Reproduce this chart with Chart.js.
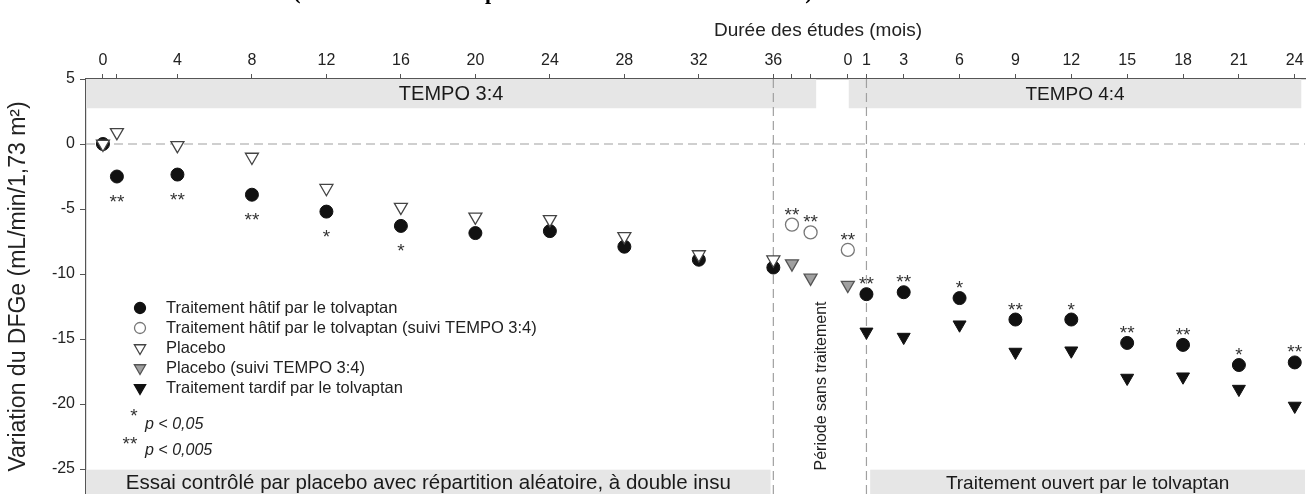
<!DOCTYPE html>
<html lang="fr">
<head>
<meta charset="utf-8">
<script src="https://cdn.jsdelivr.net/npm/chart.js@4.4.1/dist/chart.umd.min.js"></script>
<style>
  html, body { margin: 0; padding: 0; background: #fff; overflow: hidden; }
  #cadre { width: 1308px; height: 494px; }
</style>
</head>
<body>
<div id="cadre"><canvas id="graphique" width="1308" height="494"></canvas></div>
<script>
// La phase TEMPO 4:4 est placée après la période sans traitement
const DECALAGE_T44 = 40;

// TEMPO 3:4 (mois 0 à 36)
const moisT34 = [0, 0.75, 4, 8, 12, 16, 20, 24, 28, 32, 36];
const hatifT34 = [0, -2.5, -2.35, -3.9, -5.2, -6.3, -6.85, -6.7, -7.9, -8.9, -9.5];
const placeboT34 = [0, 0.9, -0.1, -1.0, -3.4, -4.85, -5.6, -5.8, -7.1, -8.5, -8.9];
const sigT34 = ['', '**', '**', '**', '*', '*', '', '', '', '', ''];

// Suivi TEMPO 3:4 (période sans traitement)
const moisSuivi = [37, 38, 40];
const hatifSuivi = [-6.2, -6.8, -8.15];
const placeboSuivi = [-9.2, -10.3, -10.85];
const sigSuivi = ['**', '**', '**'];

// TEMPO 4:4 (mois 1 à 24)
const moisT44 = [1, 3, 6, 9, 12, 15, 18, 21, 24];
const hatifT44 = [-11.55, -11.4, -11.85, -13.5, -13.5, -15.3, -15.45, -17.0, -16.8];
const tardifT44 = [-14.45, -14.85, -13.9, -16.0, -15.9, -18.0, -17.9, -18.85, -20.15];
const sigT44 = ['**', '**', '*', '**', '*', '**', '**', '*', '**'];

// Graduations de l'axe du haut
const graduationsT34 = [0, 4, 8, 12, 16, 20, 24, 28, 32, 36];
const graduationsT44 = [0, 1, 3, 6, 9, 12, 15, 18, 21, 24];
const graduationsMineures = [0.75, 37, 38];
const graduationsY = [5, 0, -5, -10, -15, -20, -25];

const X_MIN = -0.91, X_MAX = 64.55, Y_MIN = -26.92, Y_MAX = 5;

const legende = [
    { texte: 'Traitement hâtif par le tolvaptan', style: 'circle', rot: 0, fond: '#111', bord: '#111', r: 5.5 },
    { texte: 'Traitement hâtif par le tolvaptan (suivi TEMPO 3:4)', style: 'circle', rot: 0, fond: '#fff', bord: '#777', r: 5.5 },
    { texte: 'Placebo', style: 'triangle', rot: 180, fond: '#fff', bord: '#444', r: 6.5 },
    { texte: 'Placebo (suivi TEMPO 3:4)', style: 'triangle', rot: 180, fond: '#a0a0a0', bord: '#555', r: 6.5 },
    { texte: 'Traitement tardif par le tolvaptan', style: 'triangle', rot: 180, fond: '#111', bord: '#111', r: 6.5 }
];

const bandes = [
    { x0: X_MIN, x1: 38.3, y0: Y_MAX, y1: 2.75, texte: 'TEMPO 3:4', taille: 20 },
    { x0: 40.05, x1: 64.35, y0: Y_MAX, y1: 2.75, texte: 'TEMPO 4:4', taille: 19 },
    { x0: X_MIN, x1: 35.85, y0: -25.05, y1: Y_MIN, texte: 'Essai contrôlé par placebo avec répartition aléatoire, à double insu', taille: 20.5 },
    { x0: 41.2, x1: X_MAX, y0: -25.05, y1: Y_MIN, texte: 'Traitement ouvert par le tolvaptan', taille: 19 }
];

const POLICE = "'Liberation Sans', Arial, sans-serif";

function points(xs, ys, decalage = 0) {
    return xs.map((x, i) => ({ x: x + decalage, y: ys[i] }));
}

function ligne(data) {
    return {
        type: 'line', data: data, showLine: true, borderColor: '#a0a0a0',
        borderWidth: 1.2, borderDash: [9, 5], pointRadius: 0, order: 5
    };
}

const pluginBandes = {
    id: 'bandes',
    beforeDatasetsDraw(chart) {
        const { ctx, scales: { x, y } } = chart;
        ctx.save();
        ctx.textAlign = 'center';
        ctx.textBaseline = 'middle';
        bandes.forEach(b => {
            const px0 = x.getPixelForValue(b.x0), px1 = x.getPixelForValue(b.x1);
            const py0 = y.getPixelForValue(b.y0), py1 = y.getPixelForValue(b.y1);
            ctx.fillStyle = '#e6e6e6';
            ctx.fillRect(px0, py0, px1 - px0, py1 - py0);
            ctx.fillStyle = '#1a1a1a';
            ctx.font = b.taille + 'px ' + POLICE;
            const milieuY = b.y0 === Y_MAX ? (py0 + py1) / 2 + 1 : py0 + 14;
            ctx.fillText(b.texte, (px0 + px1) / 2, milieuY);
        });
        ctx.restore();
    }
};

const pluginTextes = {
    id: 'textes',
    afterDatasetsDraw(chart) {
        const { ctx, scales: { x, y } } = chart;
        ctx.save();

        // astérisques de signification
        ctx.fillStyle = '#333';
        ctx.font = '19px ' + POLICE;
        ctx.textAlign = 'center';
        ctx.textBaseline = 'alphabetic';
        const etoiles = (xs, ys, sig, decalage, dessous) => {
            xs.forEach((m, i) => {
                if (!sig[i]) return;
                const px = x.getPixelForValue(m + decalage);
                const py = y.getPixelForValue(ys[i]);
                ctx.fillText(sig[i], px, dessous ? py + 31 : py - 4);
            });
        };
        etoiles(moisT34, hatifT34, sigT34, 0, true);
        etoiles(moisSuivi, hatifSuivi, sigSuivi, 0, false);
        etoiles(moisT44, hatifT44, sigT44, DECALAGE_T44, false);

        // légende
        ctx.textAlign = 'left';
        ctx.textBaseline = 'middle';
        ctx.font = '16.5px ' + POLICE;
        legende.forEach((l, i) => {
            const ly = 308 + i * 20;
            ctx.fillStyle = l.fond;
            ctx.strokeStyle = l.bord;
            ctx.lineWidth = 1.3;
            Chart.helpers.drawPoint(ctx, { pointStyle: l.style, radius: l.r, rotation: l.rot, borderWidth: 1.3 }, 140, ly);
            ctx.fillStyle = '#222';
            ctx.fillText(l.texte, 166, ly);
        });
        ctx.fillStyle = '#333';
        ctx.textAlign = 'center';
        ctx.textBaseline = 'alphabetic';
        ctx.font = '19px ' + POLICE;
        ctx.fillText('*', 134, 422);
        ctx.fillText('**', 130, 450);
        ctx.fillStyle = '#222';
        ctx.textAlign = 'left';
        ctx.textBaseline = 'middle';
        ctx.font = 'italic 16px ' + POLICE;
        ctx.fillText('p < 0,05', 145, 425);
        ctx.fillText('p < 0,005', 145, 451);

        // période sans traitement
        ctx.save();
        ctx.translate(822, 386);
        ctx.rotate(-Math.PI / 2);
        ctx.textAlign = 'center';
        ctx.font = '16px ' + POLICE;
        ctx.fillText('Période sans traitement', 0, 0);
        ctx.restore();

        // titre de l'axe du haut
        ctx.textAlign = 'center';
        ctx.font = '19px ' + POLICE;
        ctx.fillText('Durée des études (mois)', 818, 31);

        // bas du titre de la figure, coupé par le cadrage
        ctx.font = "bold 22px 'Liberation Serif', serif";
        ctx.fillStyle = '#000';
        ctx.textBaseline = 'alphabetic';
        ctx.fillText('(', 297, -1);
        ctx.fillText('p', 491, -1);
        ctx.fillText(')', 809, -1);
        ctx.restore();
    }
};

const etiquettesX = new Map();
graduationsT34.forEach(m => etiquettesX.set(m, String(m)));
graduationsT44.forEach(m => etiquettesX.set(m + DECALAGE_T44, String(m)));
graduationsMineures.forEach(m => etiquettesX.set(m, ''));

new Chart(document.getElementById('graphique'), {
    type: 'scatter',
    data: {
        datasets: [
            {
                label: 'Placebo',
                data: points(moisT34, placeboT34),
                pointStyle: 'triangle', rotation: 180, radius: 7.5,
                backgroundColor: '#fff', borderColor: '#444', borderWidth: 1.3, order: 1
            },
            {
                label: 'Placebo (suivi TEMPO 3:4)',
                data: points(moisSuivi, placeboSuivi),
                pointStyle: 'triangle', rotation: 180, radius: 7.5,
                backgroundColor: '#a0a0a0', borderColor: '#555', borderWidth: 1.3, order: 1
            },
            {
                label: 'Traitement hâtif par le tolvaptan',
                data: points(moisT34, hatifT34).concat(points(moisT44, hatifT44, DECALAGE_T44)),
                pointStyle: 'circle', radius: 6.5,
                backgroundColor: '#111', borderColor: '#111', borderWidth: 1, order: 2
            },
            {
                label: 'Traitement hâtif par le tolvaptan (suivi TEMPO 3:4)',
                data: points(moisSuivi, hatifSuivi),
                pointStyle: 'circle', radius: 6.5,
                backgroundColor: '#fff', borderColor: '#777', borderWidth: 1.3, order: 2
            },
            {
                label: 'Traitement tardif par le tolvaptan',
                data: points(moisT44, tardifT44, DECALAGE_T44),
                pointStyle: 'triangle', rotation: 180, radius: 7.5,
                backgroundColor: '#111', borderColor: '#111', borderWidth: 1, order: 2
            },
            ligne([{ x: X_MIN, y: 0 }, { x: X_MAX, y: 0 }]),
            ligne([{ x: 36, y: Y_MAX }, { x: 36, y: Y_MIN }]),
            ligne([{ x: 41, y: Y_MAX }, { x: 41, y: Y_MIN }])
        ]
    },
    options: {
        responsive: false,
        animation: false,
        devicePixelRatio: 1,
        layout: { autoPadding: false, padding: { left: 0, right: 3, top: 0, bottom: 0 } },
        plugins: {
            legend: { display: false },
            tooltip: { enabled: false }
        },
        scales: {
            x: {
                type: 'linear',
                position: 'top',
                min: X_MIN,
                max: X_MAX,
                afterFit(s) {
                    s.height = 79;
                    s.paddingLeft = 0;
                    s.paddingRight = 0;
                },
                afterBuildTicks(s) {
                    s.ticks = [...etiquettesX.keys()].sort((a, b) => a - b).map(v => ({ value: v }));
                },
                ticks: {
                    autoSkip: false,
                    maxRotation: 0,
                    padding: 4,
                    color: '#222',
                    font: { family: POLICE, size: 16 },
                    callback: v => etiquettesX.get(v) ?? ''
                },
                grid: { drawOnChartArea: false, drawTicks: true, tickLength: 5, color: '#555' },
                border: { color: '#555', width: 1.2 }
            },
            y: {
                type: 'linear',
                min: Y_MIN,
                max: Y_MAX,
                afterFit(s) {
                    s.width = 86;
                    s.paddingTop = 0;
                    s.paddingBottom = 0;
                },
                afterBuildTicks(s) {
                    s.ticks = graduationsY.map(v => ({ value: v }));
                },
                ticks: {
                    padding: 5,
                    color: '#222',
                    font: { family: POLICE, size: 16 }
                },
                grid: { drawOnChartArea: false, drawTicks: true, tickLength: 6, color: '#555' },
                border: { color: '#555', width: 1.2 },
                title: {
                    display: true,
                    text: 'Variation du DFGe (mL/min/1,73 m²)',
                    color: '#222',
                    font: { family: POLICE, size: 23 },
                    padding: { top: 5, bottom: 0 }
                }
            }
        }
    },
    plugins: [pluginBandes, pluginTextes]
});
</script>
</body>
</html>
